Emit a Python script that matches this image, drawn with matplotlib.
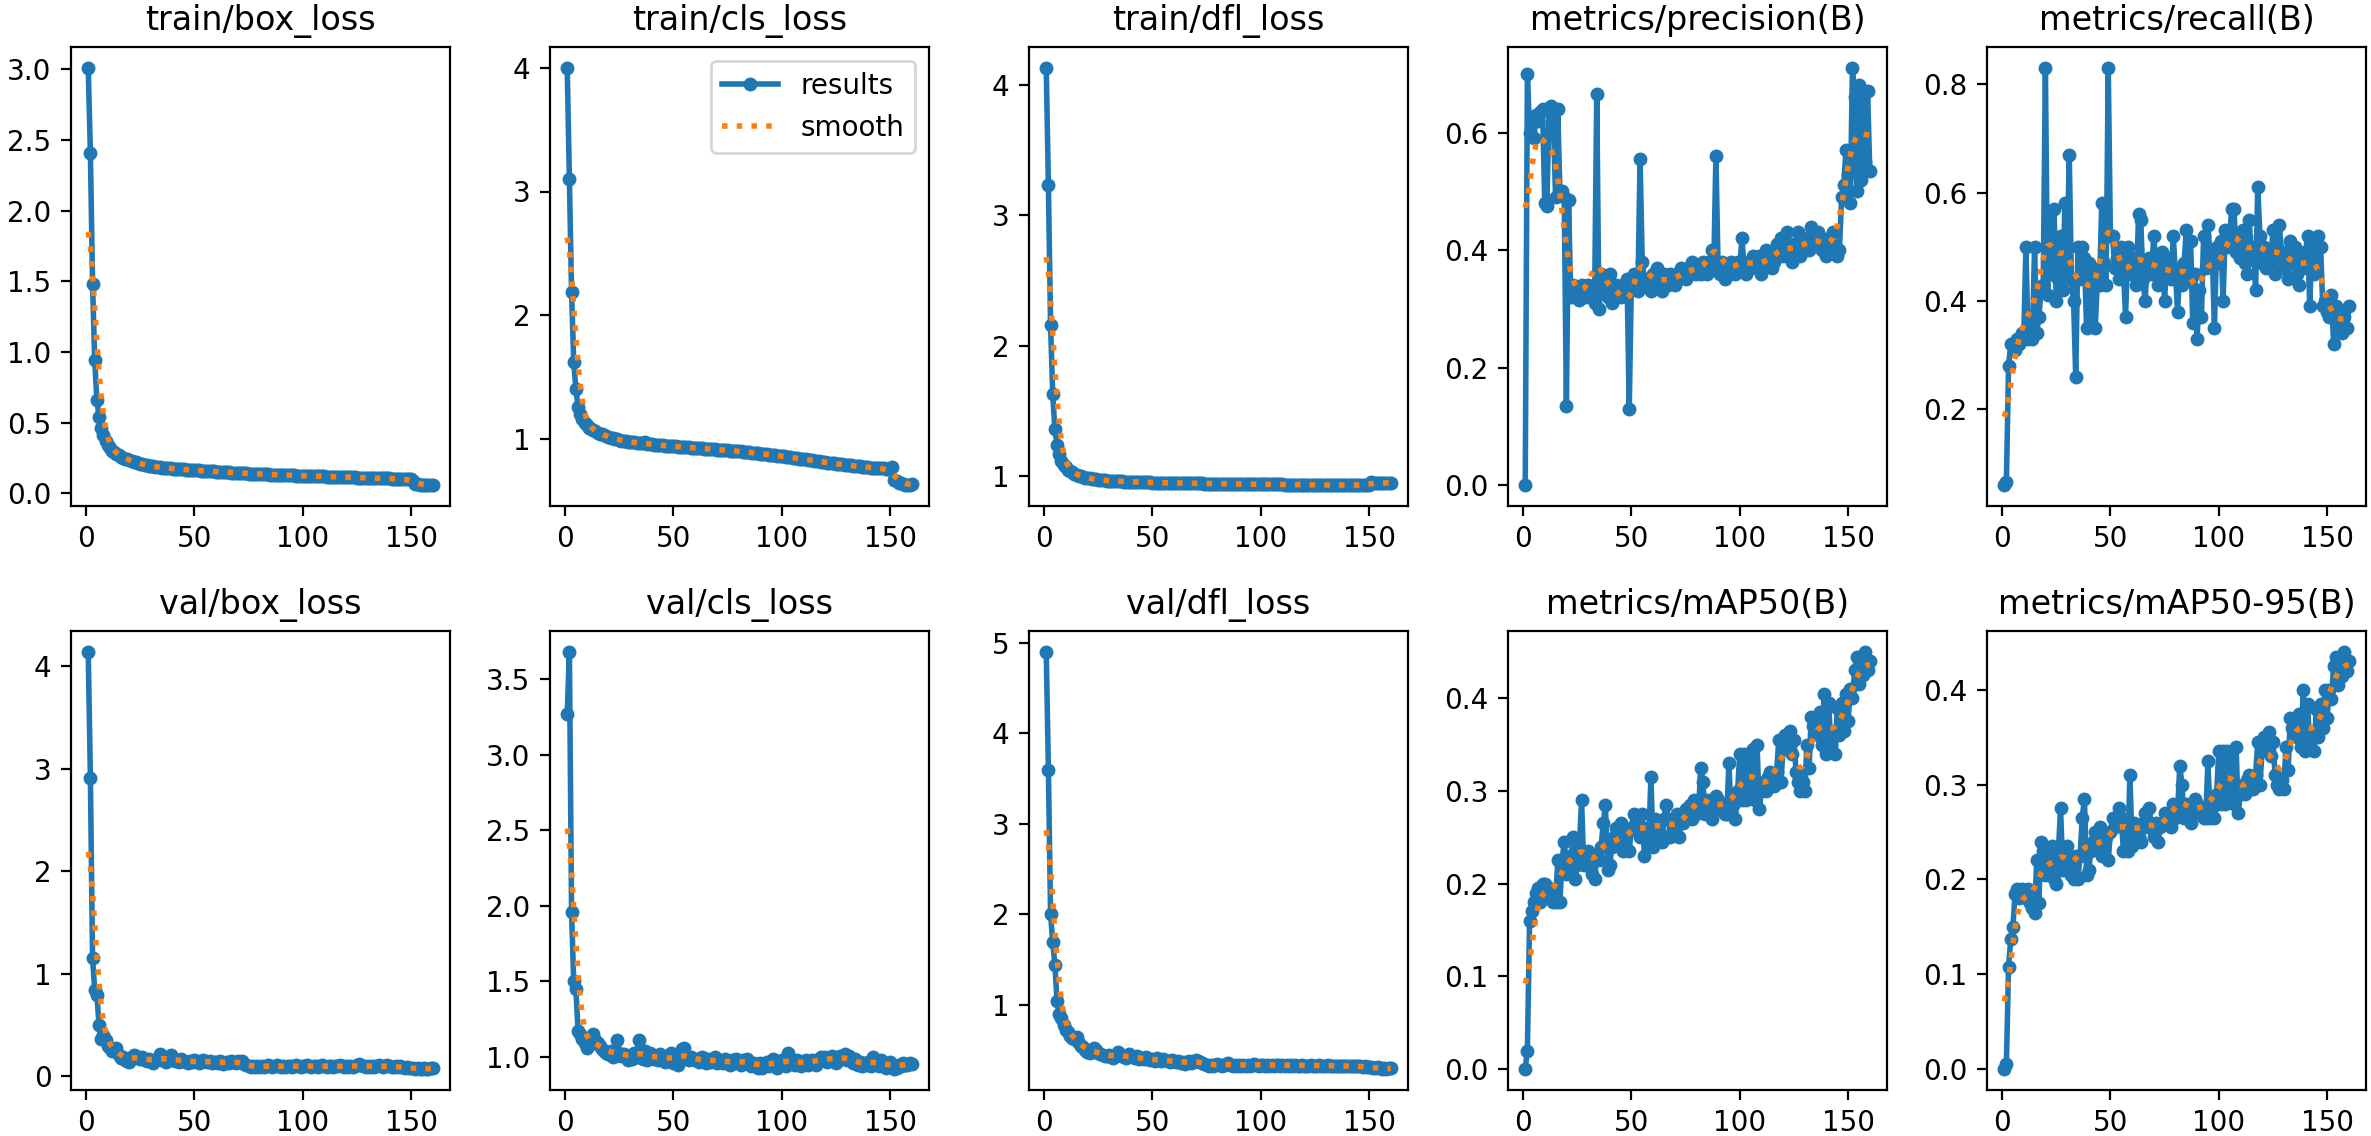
import numpy as np
import matplotlib
matplotlib.use("Agg")
import matplotlib.pyplot as plt
from matplotlib.ticker import MaxNLocator

epochs = list(range(1, 161))

titles = ["train/box_loss", "train/cls_loss", "train/dfl_loss", "metrics/precision(B)", "metrics/recall(B)",
          "val/box_loss", "val/cls_loss", "val/dfl_loss", "metrics/mAP50(B)", "metrics/mAP50-95(B)"]

train_box = [3.01, 2.41, 1.48, 0.94, 0.66, 0.54, 0.46, 0.41, 0.37, 0.34,
             0.32, 0.30, 0.29, 0.28, 0.27, 0.26, 0.25, 0.245, 0.24, 0.235,
             0.23, 0.225, 0.22, 0.215, 0.21, 0.205, 0.20, 0.198, 0.195, 0.193,
             0.19, 0.188, 0.186, 0.184, 0.182, 0.18, 0.179, 0.178, 0.176, 0.175,
             0.174, 0.172, 0.171, 0.170, 0.169, 0.168, 0.167, 0.166, 0.165, 0.164,
             0.163, 0.162, 0.161, 0.160, 0.159, 0.158, 0.157, 0.156, 0.155, 0.154,
             0.153, 0.152, 0.151, 0.150, 0.149, 0.148, 0.147, 0.146, 0.145, 0.145,
             0.144, 0.143, 0.142, 0.141, 0.140, 0.140, 0.139, 0.138, 0.137, 0.137,
             0.136, 0.135, 0.135, 0.134, 0.133, 0.133, 0.132, 0.131, 0.131, 0.130,
             0.130, 0.129, 0.128, 0.128, 0.127, 0.127, 0.126, 0.126, 0.125, 0.125,
             0.124, 0.124, 0.123, 0.123, 0.122, 0.122, 0.121, 0.121, 0.120, 0.120,
             0.119, 0.119, 0.118, 0.118, 0.117, 0.117, 0.116, 0.116, 0.115, 0.115,
             0.114, 0.114, 0.113, 0.113, 0.112, 0.112, 0.111, 0.111, 0.110, 0.110,
             0.109, 0.109, 0.108, 0.108, 0.107, 0.107, 0.106, 0.106, 0.105, 0.105,
             0.104, 0.104, 0.103, 0.103, 0.102, 0.102, 0.101, 0.101, 0.100, 0.100,
             0.090, 0.068, 0.064, 0.062, 0.061, 0.060, 0.059, 0.059, 0.058, 0.058]

train_cls = [4.00, 3.10, 2.19, 1.62, 1.40, 1.26, 1.20, 1.16, 1.13, 1.11,
             1.09, 1.08, 1.07, 1.06, 1.05, 1.04, 1.035, 1.03, 1.02, 1.015,
             1.01, 1.005, 1.00, 0.995, 0.99, 0.985, 0.98, 0.978, 0.975, 0.972,
             0.972, 0.970, 0.968, 0.966, 0.964, 0.962, 0.975, 0.958, 0.956, 0.955,
             0.953, 0.951, 0.950, 0.948, 0.947, 0.945, 0.944, 0.943, 0.941, 0.940,
             0.939, 0.937, 0.936, 0.934, 0.933, 0.931, 0.930, 0.928, 0.927, 0.925,
             0.924, 0.923, 0.922, 0.921, 0.920, 0.919, 0.917, 0.916, 0.914, 0.913,
             0.912, 0.910, 0.909, 0.908, 0.906, 0.905, 0.904, 0.902, 0.901, 0.900,
             0.898, 0.896, 0.894, 0.892, 0.890, 0.888, 0.886, 0.884, 0.882, 0.880,
             0.878, 0.876, 0.874, 0.872, 0.870, 0.868, 0.866, 0.864, 0.862, 0.860,
             0.858, 0.855, 0.853, 0.850, 0.848, 0.845, 0.843, 0.840, 0.838, 0.835,
             0.833, 0.830, 0.828, 0.825, 0.823, 0.820, 0.818, 0.815, 0.813, 0.810,
             0.808, 0.805, 0.803, 0.800, 0.798, 0.796, 0.794, 0.792, 0.790, 0.788,
             0.786, 0.784, 0.782, 0.780, 0.778, 0.776, 0.774, 0.772, 0.770, 0.768,
             0.766, 0.765, 0.764, 0.763, 0.762, 0.761, 0.760, 0.759, 0.758, 0.757,
             0.775, 0.665, 0.655, 0.645, 0.640, 0.635, 0.630, 0.625, 0.630, 0.635]

train_dfl = [4.13, 3.23, 2.16, 1.63, 1.36, 1.24, 1.17, 1.12, 1.09, 1.07,
             1.05, 1.04, 1.03, 1.02, 1.01, 1.005, 1.00, 0.995, 0.99, 0.987,
             0.984, 0.981, 0.979, 0.977, 0.975, 0.973, 0.971, 0.969, 0.968, 0.967,
             0.966, 0.965, 0.964, 0.963, 0.962, 0.961, 0.960, 0.960, 0.959, 0.958,
             0.958, 0.957, 0.957, 0.956, 0.956, 0.955, 0.955, 0.954, 0.954, 0.953,
             0.953, 0.952, 0.952, 0.952, 0.951, 0.951, 0.951, 0.950, 0.950, 0.950,
             0.949, 0.949, 0.949, 0.948, 0.948, 0.948, 0.947, 0.947, 0.947, 0.946,
             0.946, 0.946, 0.946, 0.945, 0.945, 0.945, 0.945, 0.944, 0.944, 0.944,
             0.944, 0.943, 0.943, 0.943, 0.943, 0.942, 0.942, 0.942, 0.942, 0.941,
             0.941, 0.941, 0.941, 0.941, 0.940, 0.940, 0.940, 0.940, 0.940, 0.939,
             0.939, 0.939, 0.939, 0.939, 0.938, 0.938, 0.938, 0.938, 0.938, 0.938,
             0.937, 0.937, 0.937, 0.937, 0.937, 0.937, 0.936, 0.936, 0.936, 0.936,
             0.936, 0.936, 0.936, 0.935, 0.935, 0.935, 0.935, 0.935, 0.935, 0.935,
             0.935, 0.934, 0.934, 0.934, 0.934, 0.934, 0.934, 0.934, 0.934, 0.934,
             0.934, 0.933, 0.933, 0.933, 0.933, 0.933, 0.933, 0.933, 0.933, 0.933,
             0.955, 0.953, 0.952, 0.951, 0.951, 0.950, 0.950, 0.950, 0.951, 0.952]

precision = [0.00, 0.70, 0.60, 0.62, 0.59, 0.63, 0.62, 0.635, 0.64, 0.48,
             0.475, 0.64, 0.645, 0.62, 0.49, 0.64, 0.50, 0.50, 0.49, 0.135,
             0.485, 0.32, 0.34, 0.32, 0.33, 0.315, 0.34, 0.33, 0.32, 0.34,
             0.33, 0.32, 0.31, 0.665, 0.30, 0.36, 0.33, 0.35, 0.32, 0.36,
             0.31, 0.33, 0.34, 0.33, 0.32, 0.34, 0.33, 0.35, 0.13, 0.35,
             0.36, 0.34, 0.33, 0.555, 0.38, 0.35, 0.34, 0.35, 0.33, 0.36,
             0.34, 0.37, 0.35, 0.33, 0.36, 0.35, 0.34, 0.36, 0.35, 0.34,
             0.36, 0.35, 0.37, 0.36, 0.35, 0.37, 0.36, 0.38, 0.37, 0.36,
             0.37, 0.36, 0.38, 0.37, 0.36, 0.38, 0.40, 0.37, 0.56, 0.37,
             0.36, 0.38, 0.35, 0.37, 0.36, 0.38, 0.37, 0.36, 0.38, 0.37,
             0.42, 0.37, 0.36, 0.38, 0.37, 0.39, 0.38, 0.37, 0.39, 0.36,
             0.37, 0.40, 0.38, 0.39, 0.37, 0.38, 0.41, 0.40, 0.42, 0.39,
             0.40, 0.43, 0.39, 0.38, 0.41, 0.40, 0.43, 0.39, 0.42, 0.40,
             0.41, 0.40, 0.44, 0.42, 0.41, 0.43, 0.42, 0.40, 0.41, 0.39,
             0.42, 0.41, 0.43, 0.40, 0.39, 0.40, 0.49, 0.51, 0.57, 0.53,
             0.48, 0.71, 0.66, 0.50, 0.68, 0.52, 0.67, 0.55, 0.67, 0.535]

recall = [0.06, 0.065, 0.28, 0.32, 0.32, 0.31, 0.33, 0.32, 0.34, 0.33,
          0.50, 0.33, 0.35, 0.33, 0.50, 0.34, 0.37, 0.42, 0.43, 0.83,
          0.41, 0.56, 0.45, 0.57, 0.40, 0.44, 0.52, 0.42, 0.58, 0.45,
          0.67, 0.44, 0.40, 0.26, 0.50, 0.44, 0.50, 0.48, 0.35, 0.47,
          0.36, 0.46, 0.35, 0.44, 0.43, 0.58, 0.47, 0.43, 0.83, 0.52,
          0.52, 0.46, 0.48, 0.44, 0.50, 0.46, 0.37, 0.50, 0.45, 0.48,
          0.46, 0.43, 0.56, 0.55, 0.44, 0.40, 0.47, 0.48, 0.45, 0.52,
          0.47, 0.43, 0.46, 0.49, 0.40, 0.48, 0.46, 0.44, 0.52, 0.45,
          0.38, 0.46, 0.43, 0.47, 0.53, 0.44, 0.51, 0.36, 0.45, 0.33,
          0.42, 0.37, 0.52, 0.46, 0.54, 0.48, 0.49, 0.35, 0.50, 0.47,
          0.51, 0.40, 0.53, 0.50, 0.52, 0.57, 0.57, 0.49, 0.52, 0.48,
          0.53, 0.47, 0.45, 0.55, 0.49, 0.50, 0.42, 0.61, 0.52, 0.47,
          0.50, 0.46, 0.49, 0.47, 0.53, 0.45, 0.50, 0.54, 0.48, 0.46,
          0.49, 0.44, 0.51, 0.47, 0.50, 0.45, 0.43, 0.48, 0.46, 0.49,
          0.52, 0.39, 0.51, 0.45, 0.48, 0.52, 0.50, 0.39, 0.40, 0.38,
          0.37, 0.41, 0.32, 0.39, 0.36, 0.38, 0.34, 0.37, 0.35, 0.39]

val_box = [4.14, 2.91, 1.15, 0.84, 0.79, 0.50, 0.36, 0.40, 0.35, 0.30,
           0.28, 0.25, 0.27, 0.28, 0.21, 0.18, 0.19, 0.16, 0.15, 0.14,
           0.19, 0.21, 0.20, 0.18, 0.17, 0.19, 0.16, 0.15, 0.17, 0.15,
           0.13, 0.16, 0.17, 0.22, 0.20, 0.15, 0.14, 0.16, 0.21, 0.17,
           0.15, 0.16, 0.14, 0.17, 0.15, 0.14, 0.13, 0.15, 0.14, 0.16,
           0.15, 0.13, 0.14, 0.16, 0.15, 0.14, 0.15, 0.13, 0.14, 0.14,
           0.13, 0.15, 0.12, 0.13, 0.14, 0.13, 0.15, 0.14, 0.13, 0.15,
           0.14, 0.15, 0.12, 0.11, 0.10, 0.09, 0.10, 0.09, 0.10, 0.09,
           0.10, 0.09, 0.10, 0.11, 0.10, 0.09, 0.10, 0.11, 0.10, 0.09,
           0.10, 0.09, 0.10, 0.10, 0.09, 0.10, 0.11, 0.10, 0.09, 0.10,
           0.10, 0.11, 0.10, 0.09, 0.10, 0.10, 0.09, 0.10, 0.11, 0.10,
           0.09, 0.10, 0.10, 0.09, 0.10, 0.10, 0.11, 0.10, 0.09, 0.10,
           0.09, 0.10, 0.09, 0.10, 0.11, 0.12, 0.11, 0.10, 0.09, 0.10,
           0.09, 0.10, 0.09, 0.10, 0.11, 0.10, 0.09, 0.10, 0.11, 0.10,
           0.09, 0.09, 0.10, 0.09, 0.10, 0.09, 0.08, 0.09, 0.08, 0.08,
           0.08, 0.07, 0.08, 0.07, 0.07, 0.08, 0.07, 0.07, 0.08, 0.08]

val_cls = [3.27, 3.68, 1.96, 1.50, 1.45, 1.17, 1.15, 1.12, 1.09, 1.06,
           1.08, 1.10, 1.15, 1.11, 1.09, 1.07, 1.05, 1.04, 1.03, 1.02,
           1.04, 1.00, 1.01, 1.11, 1.03, 1.01, 1.02, 1.00, 0.98, 1.01,
           0.99, 1.03, 1.00, 1.11, 1.02, 0.99, 1.04, 0.98, 1.03, 1.00,
           0.99, 1.01, 0.98, 1.02, 0.99, 0.97, 1.01, 0.98, 1.03, 0.96,
           1.00, 0.95, 1.01, 1.05, 1.06, 1.00, 0.98, 1.00, 0.99, 0.98,
           0.99, 0.97, 1.00, 0.98, 0.96, 0.99, 0.97, 0.98, 1.00, 0.96,
           0.98, 0.97, 0.96, 0.99, 0.97, 0.95, 0.98, 0.96, 0.99, 0.97,
           0.95, 0.98, 0.96, 0.99, 0.97, 0.94, 0.96, 0.95, 0.93, 0.96,
           0.93, 0.95, 0.97, 0.94, 0.96, 0.99, 0.95, 0.93, 0.96, 0.98,
           0.96, 0.94, 1.03, 0.99, 0.97, 0.95, 0.98, 0.96, 0.94, 0.97,
           0.98, 0.95, 0.96, 0.98, 0.97, 0.95, 0.99, 1.00, 0.98, 1.00,
           0.97, 0.99, 1.01, 0.98, 0.96, 1.00, 1.01, 0.99, 1.02, 0.98,
           1.01, 0.98, 0.96, 0.99, 0.95, 0.97, 0.94, 0.96, 0.95, 0.97,
           0.94, 1.00, 0.98, 0.96, 0.94, 0.98, 0.96, 0.93, 0.95, 0.97,
           0.94, 0.92, 0.93, 0.95, 0.94, 0.96, 0.95, 0.95, 0.96, 0.955]

val_dfl = [4.90, 3.60, 2.00, 1.70, 1.44, 1.04, 0.90, 0.85, 0.78, 0.72,
           0.70, 0.66, 0.63, 0.62, 0.64, 0.58, 0.55, 0.53, 0.50, 0.48,
           0.47, 0.49, 0.52, 0.50, 0.47, 0.46, 0.45, 0.44, 0.43, 0.45,
           0.42, 0.41, 0.44, 0.48, 0.45, 0.43, 0.42, 0.41, 0.46, 0.43,
           0.42, 0.41, 0.43, 0.40, 0.41, 0.40, 0.42, 0.40, 0.39, 0.40,
           0.38, 0.41, 0.39, 0.38, 0.40, 0.39, 0.38, 0.37, 0.39, 0.38,
           0.37, 0.38, 0.36, 0.37, 0.35, 0.37, 0.38, 0.36, 0.37, 0.39,
           0.38, 0.37, 0.36, 0.35, 0.34, 0.33, 0.34, 0.33, 0.34, 0.35,
           0.34, 0.33, 0.34, 0.35, 0.36, 0.34, 0.33, 0.34, 0.33, 0.34,
           0.33, 0.34, 0.33, 0.34, 0.33, 0.34, 0.35, 0.34, 0.33, 0.34,
           0.34, 0.33, 0.34, 0.33, 0.34, 0.33, 0.34, 0.34, 0.33, 0.34,
           0.33, 0.34, 0.33, 0.34, 0.33, 0.34, 0.33, 0.33, 0.34, 0.33,
           0.32, 0.33, 0.34, 0.33, 0.32, 0.33, 0.34, 0.33, 0.32, 0.33,
           0.34, 0.33, 0.32, 0.33, 0.32, 0.33, 0.32, 0.32, 0.33, 0.32,
           0.33, 0.32, 0.33, 0.32, 0.33, 0.32, 0.31, 0.32, 0.31, 0.31,
           0.31, 0.30, 0.30, 0.31, 0.30, 0.29, 0.30, 0.29, 0.30, 0.30]

map50 = [0.0, 0.02, 0.16, 0.17, 0.18, 0.19, 0.195, 0.18, 0.20, 0.20,
         0.19, 0.195, 0.19, 0.18, 0.18, 0.225, 0.18, 0.225, 0.245, 0.21,
         0.23, 0.215, 0.25, 0.205, 0.22, 0.24, 0.29, 0.22, 0.23, 0.235,
         0.225, 0.21, 0.205, 0.23, 0.225, 0.24, 0.265, 0.285, 0.215, 0.22,
         0.24, 0.25, 0.26, 0.245, 0.265, 0.235, 0.25, 0.255, 0.235, 0.26,
         0.275, 0.265, 0.27, 0.25, 0.275, 0.23, 0.26, 0.245, 0.315, 0.24,
         0.27, 0.26, 0.255, 0.245, 0.27, 0.285, 0.27, 0.25, 0.265, 0.255,
         0.275, 0.25, 0.27, 0.265, 0.28, 0.275, 0.285, 0.27, 0.29, 0.275,
         0.28, 0.325, 0.31, 0.275, 0.29, 0.28, 0.27, 0.285, 0.295, 0.29,
         0.28, 0.285, 0.275, 0.275, 0.33, 0.275, 0.285, 0.27, 0.30, 0.34,
         0.29, 0.34, 0.29, 0.34, 0.30, 0.345, 0.29, 0.35, 0.28, 0.30,
         0.31, 0.30, 0.315, 0.32, 0.31, 0.305, 0.32, 0.355, 0.31, 0.345,
         0.36, 0.35, 0.365, 0.34, 0.355, 0.32, 0.31, 0.30, 0.31, 0.30,
         0.35, 0.325, 0.38, 0.37, 0.375, 0.36, 0.385, 0.35, 0.405, 0.34,
         0.395, 0.35, 0.365, 0.34, 0.39, 0.36, 0.395, 0.365, 0.405, 0.375,
         0.41, 0.40, 0.43, 0.445, 0.415, 0.445, 0.425, 0.45, 0.43, 0.44]

map50_95 = [0.0, 0.005, 0.108, 0.137, 0.15, 0.185, 0.19, 0.18, 0.19, 0.185,
            0.18, 0.19, 0.175, 0.17, 0.165, 0.22, 0.175, 0.24, 0.23, 0.205,
            0.22, 0.21, 0.235, 0.20, 0.195, 0.23, 0.275, 0.21, 0.22, 0.235,
            0.215, 0.205, 0.20, 0.225, 0.20, 0.225, 0.265, 0.285, 0.205, 0.21,
            0.23, 0.24, 0.25, 0.235, 0.255, 0.225, 0.24, 0.245, 0.22, 0.25,
            0.265, 0.255, 0.26, 0.275, 0.265, 0.23, 0.25, 0.23, 0.31, 0.235,
            0.26, 0.25, 0.245, 0.24, 0.26, 0.27, 0.255, 0.275, 0.255, 0.245,
            0.26, 0.24, 0.255, 0.26, 0.27, 0.265, 0.27, 0.255, 0.28, 0.265,
            0.27, 0.32, 0.30, 0.265, 0.28, 0.27, 0.26, 0.275, 0.285, 0.28,
            0.27, 0.275, 0.265, 0.265, 0.325, 0.265, 0.275, 0.265, 0.29, 0.335,
            0.28, 0.335, 0.28, 0.335, 0.29, 0.335, 0.28, 0.34, 0.27, 0.29,
            0.30, 0.29, 0.305, 0.31, 0.30, 0.295, 0.31, 0.345, 0.30, 0.335,
            0.35, 0.34, 0.355, 0.33, 0.345, 0.31, 0.30, 0.295, 0.305, 0.295,
            0.34, 0.315, 0.37, 0.36, 0.365, 0.35, 0.375, 0.34, 0.40, 0.335,
            0.385, 0.34, 0.355, 0.335, 0.38, 0.35, 0.385, 0.36, 0.40, 0.37,
            0.40, 0.39, 0.425, 0.435, 0.405, 0.435, 0.415, 0.44, 0.42, 0.43]

series = [train_box, train_cls, train_dfl, precision, recall,
          val_box, val_cls, val_dfl, map50, map50_95]


def gaussian_smooth(y, sigma=3.0, truncate=4.0):
    y = np.asarray(y, dtype=float)
    radius = int(truncate * sigma + 0.5)
    k = np.arange(-radius, radius + 1)
    w = np.exp(-0.5 * (k / sigma) ** 2)
    w /= w.sum()
    padded = np.pad(y, radius, mode="symmetric")
    return np.convolve(padded, w, mode="valid")


W, H = 2371, 1136
fig, axes = plt.subplots(2, 5, figsize=(W / 200, H / 200), dpi=200)
fig.subplots_adjust(left=71 / W, right=2366 / W, bottom=46 / H, top=1 - 47 / H,
                    wspace=100 / 379, hspace=125 / 459)
axes = axes.ravel()
x = np.array(epochs)
for i, (ax, t, y) in enumerate(zip(axes, titles, series)):
    y = np.array(y, dtype=float)
    ax.plot(x, y, marker=".", label="results", linewidth=2, markersize=8)
    ax.plot(x, gaussian_smooth(y), ":", label="smooth", linewidth=2)
    ax.set_title(t, fontsize=12)
    ax.yaxis.set_major_locator(MaxNLocator(nbins=7, steps=[1, 2, 2.5, 5, 10]))
axes[1].legend()

fig.savefig("out.png", dpi=200)
